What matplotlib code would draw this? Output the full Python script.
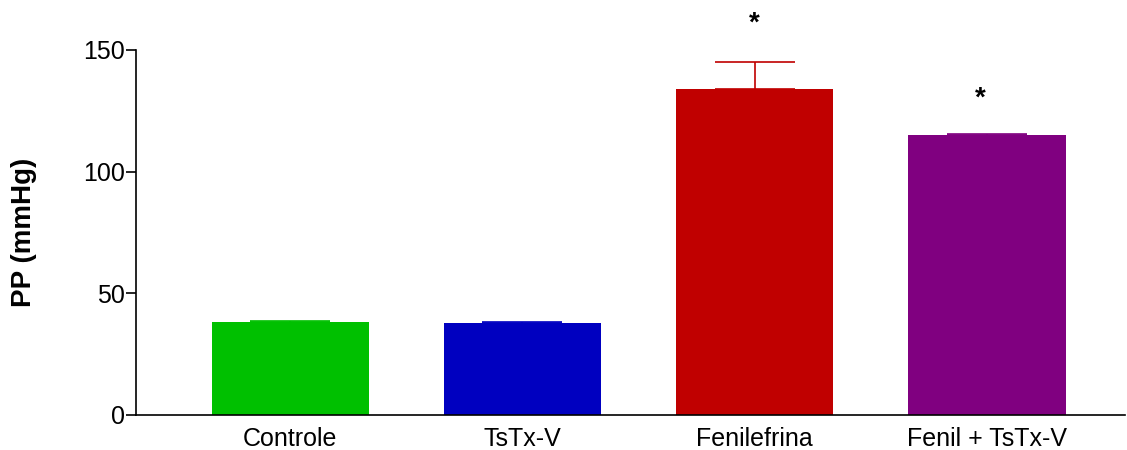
import matplotlib
matplotlib.use('Agg')
import matplotlib.pyplot as plt

plt.rcParams['font.family'] = ['Liberation Sans', 'DejaVu Sans']

groups = ['Controle', 'TsTx-V', 'Fenilefrina', 'Fenil + TsTx-V']
pp_mean = [38.2, 37.8, 134.0, 115.0]
pp_sem = [0.4, 0.4, 11.0, 0.3]
bar_colors = ['#00C000', '#0000C0', '#C00000', '#800080']
signif = ['', '', '*', '*']
star_y = [0, 0, 161.0, 130.0]
star_dx = [0, 0, 0, -0.03]

fig = plt.figure(figsize=(11.27, 4.5), dpi=100)
ax = fig.add_axes([136 / 1127, 35 / 450, (1125 - 136) / 1127, 365 / 450])

x = list(range(len(groups)))
for i in x:
    ax.bar(i, pp_mean[i], width=0.676, color=bar_colors[i], zorder=2)
    ax.errorbar(i, pp_mean[i], yerr=[[0], [pp_sem[i]]], fmt='none',
                ecolor=bar_colors[i], elinewidth=1.2, capsize=28.5, capthick=1.2, zorder=1)
    if signif[i]:
        ax.text(i + star_dx[i], star_y[i], signif[i], ha='center', va='center',
                fontsize=20, fontweight='bold', clip_on=False)

ax.set_xlim(-0.663, 3.594)
ax.set_ylim(0, 150)
ax.set_yticks([0, 50, 100, 150])
ax.set_xticks(x)
ax.set_xticklabels(groups, fontsize=18)
ax.tick_params(axis='x', length=0, pad=9)
ax.tick_params(axis='y', labelsize=18, length=7, width=1.2, pad=1)
ax.set_ylabel('PP (mmHg)', fontsize=20, fontweight='bold', labelpad=33)
ax.spines['top'].set_visible(False)
ax.spines['right'].set_visible(False)
ax.spines['left'].set_linewidth(1.2)
ax.spines['bottom'].set_linewidth(1.2)

fig.savefig('out.png', dpi=100)
